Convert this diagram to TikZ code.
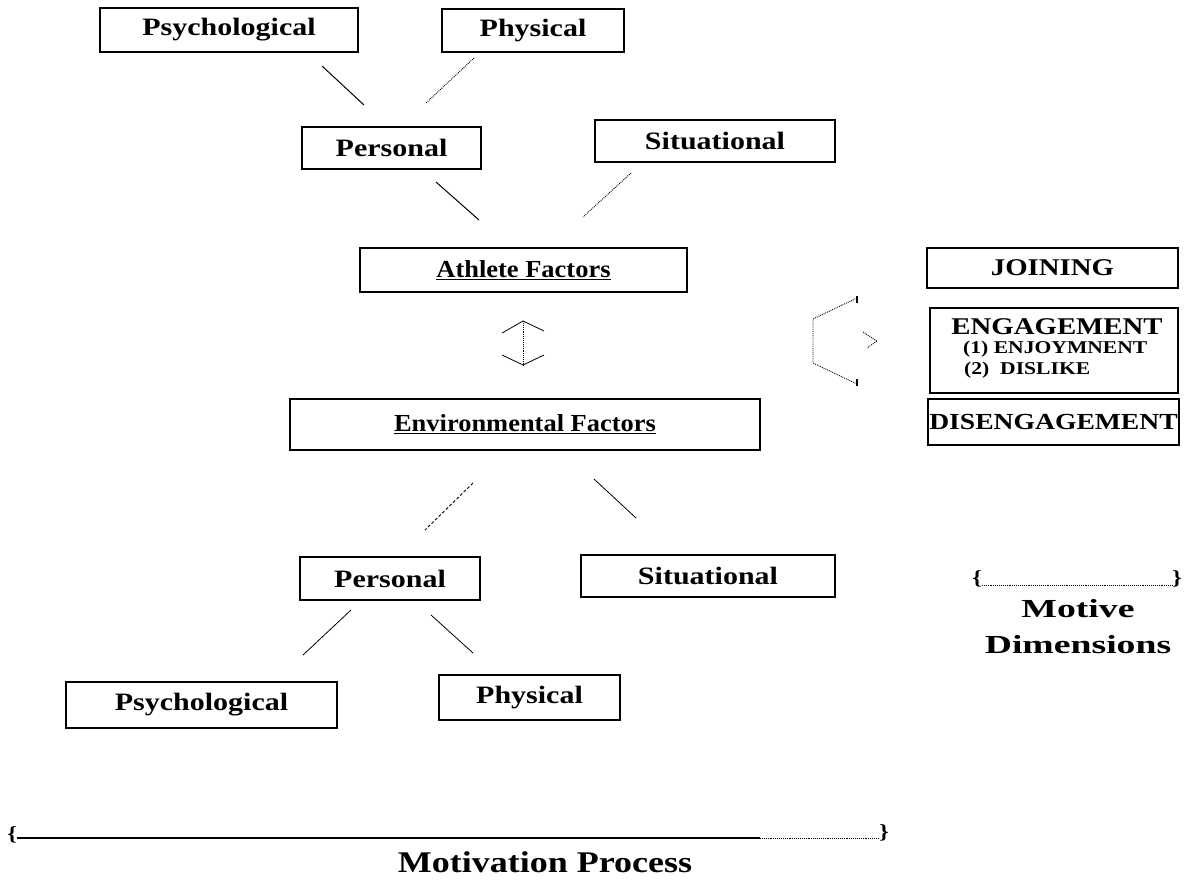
\documentclass[tikz,border=0pt]{standalone}
\usepackage{fontspec}
\setmainfont{Liberation Serif}[FakeStretch=1.2]
\newfontfamily\widefont{Liberation Serif}[FakeStretch=1.45]
\newfontfamily\narrowfont{Liberation Serif}[FakeStretch=1.08]
\begin{document}
\begin{tikzpicture}[x=1pt,y=-1pt,
  box/.style={draw, line width=1.1pt, inner sep=0pt, font=\bfseries\fontsize{25}{29}\selectfont},
  bigbox/.style={draw, line width=1.1pt, inner sep=0pt, font=\narrowfont\bfseries\fontsize{24.5}{28}\selectfont},
  capbox/.style={draw, line width=1.1pt, inner sep=0pt, font=\bfseries\fontsize{24}{28}\selectfont},
  smalltxt/.style={inner sep=0pt, anchor=base west, font=\bfseries\fontsize{18}{22}\selectfont},
  conn/.style={line width=1pt},
  dotconn/.style={line width=0.9pt, densely dotted},
  dashconn/.style={line width=0.9pt, densely dashed},
  bracetxt/.style={inner sep=0pt, font=\bfseries\fontsize{20}{24}\selectfont}
]
\useasboundingbox (0,0) rectangle (1201,884);
\fill[white] (0,0) rectangle (1201,884);

% top row
\node[box, minimum width=258pt, minimum height=44pt] (psyT) at (229,30) {Psychological};
\node[box, minimum width=182pt, minimum height=43pt] (phyT) at (533,30.5) {Physical};
\node[box, minimum width=179pt, minimum height=42pt] (perT) at (391.5,148) {Personal};
\node[box, minimum width=240pt, minimum height=42pt] (sitT) at (715,141) {Situational};

\node[bigbox, minimum width=327pt, minimum height=44pt] (ath) at (523.5,270) {\underline{Athlete Factors}};
\node[bigbox, minimum width=470pt, minimum height=51pt] (env) at (525,424.5) {\underline{Environmental Factors}};

% bottom rows
\node[box, minimum width=180pt, minimum height=43pt] (perB) at (390,578.5) {Personal};
\node[box, minimum width=254pt, minimum height=42pt] (sitB) at (708,576) {Situational};
\node[box, minimum width=271pt, minimum height=46pt] (psyB) at (201.5,705) {Psychological};
\node[box, minimum width=181pt, minimum height=45pt] (phyB) at (529.5,697.5) {Physical};

% connectors top
\coordinate (a1) at (322,66);  \coordinate (b1) at (364,105);
\coordinate (a2) at (474,58);  \coordinate (b2) at (426,103);
\coordinate (a3) at (436,182); \coordinate (b3) at (479,220);
\coordinate (a4) at (631,173); \coordinate (b4) at (583,217);
\draw[conn] (a1) -- (b1);
\draw[dotconn] (a2) -- (b2);
\draw[conn] (a3) -- (b3);
\draw[dotconn] (a4) -- (b4);

% double arrow between athlete and environment
\coordinate (ua) at (523,321); \coordinate (da) at (523,365);
\draw[conn, line width=0.8pt] (502,333) -- (ua) -- (544,331);
\draw[conn, line width=0.8pt] (502,355) -- (da) -- (544,355);
\draw[dotconn, line width=0.7pt] (ua) -- (da);

% connectors bottom
\coordinate (a5) at (473,483); \coordinate (b5) at (425,530);
\coordinate (a6) at (594,479); \coordinate (b6) at (636,518);
\coordinate (a7) at (351,610); \coordinate (b7) at (303,655);
\coordinate (a8) at (431,615); \coordinate (b8) at (473,653);
\draw[dashconn] (a5) -- (b5);
\draw[conn, line width=0.8pt] (a6) -- (b6);
\draw[conn, line width=0.8pt] (a7) -- (b7);
\draw[conn, line width=0.8pt] (a8) -- (b8);

% right: motive dimensions boxes
\node[capbox, minimum width=251pt, minimum height=40pt] (join) at (1052.5,268) {JOINING};
\node[draw, line width=1.1pt, minimum width=248pt, minimum height=85pt] (eng) at (1054,350.5) {};
\node[inner sep=0pt, anchor=base, font=\bfseries\fontsize{24}{28}\selectfont] (engt) at (1057,334) {ENGAGEMENT};
\node[smalltxt] (enj) at (963,353) {(1) ENJOYMNENT};
\node[smalltxt] (dsl) at (964,374) {(2)\ \ DISLIKE};
\node[capbox, minimum width=251pt, minimum height=46pt, font=\bfseries\fontsize{23}{27}\selectfont] (dis) at (1053.5,422) {DISENGAGEMENT};

% cycle bracket arrow
\coordinate (c1) at (857,298); \coordinate (c2) at (813,319);
\coordinate (c3) at (813,363); \coordinate (c4) at (857,384);
\draw[dotconn] (c1) -- (c2) -- (c3) -- (c4);
\draw[conn, line width=1.2pt] (857,296) -- (857,303);
\draw[conn, line width=1.2pt] (857,379) -- (857,386);
\coordinate (tip) at (877,341);
\draw[dotconn] (863,332) -- (tip) -- (867,348);

% Motive Dimensions
\node[bracetxt] (mlb) at (977,579) {\{};
\node[bracetxt] (mrb) at (1177,579) {\}};
\draw[dotconn, line width=0.6pt] (mlb.east |- 0,585) -- (mrb.west |- 0,585);
\node[inner sep=0pt, anchor=base, font=\widefont\bfseries\fontsize{26}{30}\selectfont] (mot) at (1078,617) {Motive};
\node[inner sep=0pt, anchor=base, font=\widefont\bfseries\fontsize{26}{30}\selectfont] (dim) at (1078,653) {Dimensions};

% Motivation Process
\node[bracetxt] (plb) at (12,835) {\{};
\node[bracetxt] (prb) at (884,833) {\}};
\coordinate (pm) at (760,838);
\draw[conn, line width=1.1pt] (plb.east |- 0,838) -- (pm);
\draw[dotconn, line width=0.6pt] (pm) -- (prb.west |- 0,838);
\node[inner sep=0pt, anchor=base, font=\bfseries\fontsize{30}{34}\selectfont] (mp) at (545,872) {Motivation Process};
\end{tikzpicture}
\end{document}
